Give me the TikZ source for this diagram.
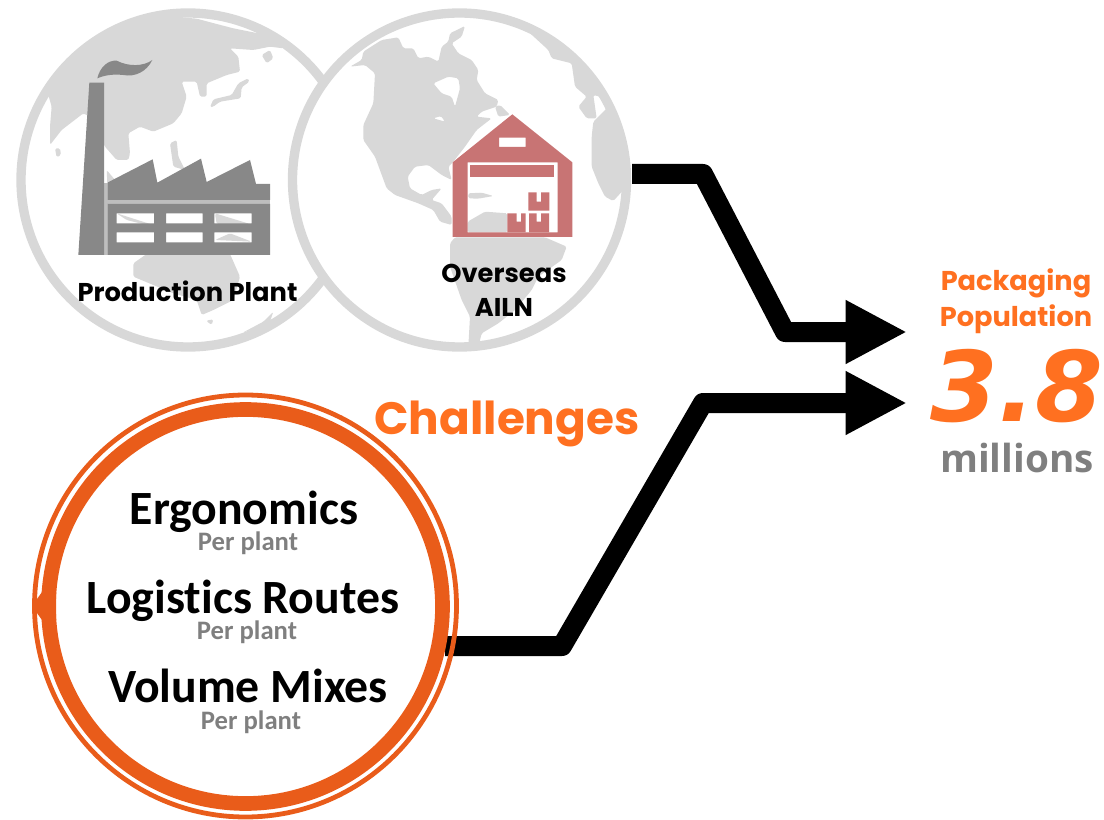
\documentclass[tikz,border=0pt]{standalone}
\usepackage{fontspec}
\setmainfont[Ligatures=NoCommon]{Carlito}
\newfontfamily\gothic{Poppins}
\newfontfamily\dejav{DejaVu Sans}
\newfontfamily\opens{Open Sans}
\usetikzlibrary{arrows.meta}
\definecolor{landgray}{RGB}{216,216,216}
\definecolor{factorygray}{RGB}{136,136,136}
\definecolor{factorygap}{RGB}{190,190,190}
\definecolor{barnred}{RGB}{200,116,116}
\definecolor{ringorange}{RGB}{233,92,26}
\definecolor{textorange}{RGB}{255,112,32}
\definecolor{subgray}{RGB}{127,127,127}
\tikzset{
  land/.style={fill=landgray,rounded corners=1.2pt},
  factorypart/.style={fill=factorygray},
  barnpart/.style={fill=barnred,even odd rule},
  globe/.style={circle,draw=landgray,fill=white,line width=7pt,minimum size=250.5pt,inner sep=0pt,outer sep=0pt},
  thickring/.style={circle,draw=ringorange,line width=11pt,minimum size=295.5pt,inner sep=0pt,outer sep=0pt},
  thinring/.style={circle,draw=ringorange,line width=3.6pt,minimum size=316.5pt,inner sep=0pt,outer sep=0pt},
  flow/.style={draw=black,line width=15pt,line join=round,-{Triangle[length=46pt,width=44.5pt]}},
  txt/.style={inner sep=0pt,outer sep=0pt,anchor=base},
  glabel/.style={txt,font=\gothic\bfseries\fontsize{19.3pt}{22pt}\selectfont,text=black},
  biglabel/.style={txt,font=\bfseries\fontsize{35.8pt}{38pt}\selectfont,text=black},
  perlabel/.style={txt,font=\bfseries\fontsize{20pt}{22pt}\selectfont,text=subgray},
  packlabel/.style={txt,font=\gothic\bfseries\fontsize{20.4pt}{23pt}\selectfont,text=textorange},
}
\begin{document}
\begin{tikzpicture}[x=0.75pt,y=-0.75pt]
\useasboundingbox (0,0) rectangle (1104,820);
% left globe
\node[globe] (g1) at (188,180) {};
\begin{scope}[x=.25pt,y=-.25pt]
\clip (564,540) circle [radius=125pt];
\fill[land] (145,285) -- (155,320) -- (150,380) -- (150,435) -- (185,390) -- (250,340) -- (270,350) -- (315,440) -- (350,480) -- (385,480) -- (390,460) -- (385,400) -- (420,380) -- (460,395) -- (520,370) -- (545,340) -- (560,290) -- (545,245) -- (590,245) -- (600,290) -- (620,290) -- (620,250) -- (680,225) -- (720,215) -- (715,170) -- (690,145) -- (760,150) -- (810,140) -- (850,145) -- (820,100) -- (775,100) -- (700,85) -- (650,72) -- (590,56) -- (400,40) -- (200,150) -- cycle;
\fill[land] (630,322) -- (640,298) -- (695,285) -- (715,250) -- (745,235) -- (748,245) -- (725,262) -- (722,295) -- (660,305) -- (640,320) -- cycle;
\fill[land] (785,165) -- (810,150) -- (820,175) -- (800,190) -- cycle;
\fill[land] (165,445) -- (180,445) -- (183,465) -- (170,472) -- cycle;
\fill[land] (510,430) -- (530,420) -- (535,470) -- (555,510) -- (520,500) -- cycle;
\fill[land] (320,510) -- (345,540) -- (322,550) -- cycle;
\fill[land] (350,640) -- (460,675) -- (460,680) -- (380,660) -- cycle;
\fill[land] (645,640) -- (750,672) -- (650,672) -- cycle;
\fill[land] (645,720) -- (690,700) -- (755,725) -- cycle;
\fill[land] (400,790) -- (440,762) -- (690,762) -- (720,830) -- (700,900) -- (640,930) -- (605,945) -- (590,900) -- (520,880) -- (400,830) -- cycle;
\fill[land] (618,962) -- (640,958) -- (635,975) -- cycle;
\fill[land] (728,998) -- (790,965) -- (820,935) -- (810,965) -- (770,985) -- cycle;
% factory
\fill[factorygap] (312,548) rectangle (322,765);
\fill[factorygap] (322,600) rectangle (810,612);
\fill[factorypart] (235,765) -- (268,248) -- (312,248) -- (312,765) -- cycle;
\fill[factorypart] (292,235) .. controls (300,200) and (325,180) .. (350,182) .. controls (385,200) and (430,200) .. (457,180) .. controls (440,215) and (405,232) .. (370,225) .. controls (340,222) and (315,225) .. (292,235) -- cycle;
\fill[factorypart] (322,548) -- (458,478) -- (472,548) -- (603,476) -- (620,546) -- (750,480) -- (768,552) -- (810,552) -- (810,600) -- (322,600) -- cycle;
\fill[factorypart,even odd rule] (322,612) rectangle (810,765)
  (350,640) rectangle (462,670) (498,640) rectangle (608,670) (643,640) rectangle (755,670)
  (350,697) rectangle (462,727) (498,697) rectangle (608,727) (643,697) rectangle (755,727);
\end{scope}
% right globe
\node[globe] (g2) at (459.5,180) {};
\begin{scope}[shift={(285,0)},x=.25pt,y=-.25pt]
\clip (523.5,540) circle [radius=125pt];
\fill[land,even odd rule] (195,200) -- (230,180) -- (235,155) -- (290,120) -- (340,112) -- (355,145) -- (385,145) -- (400,175) -- (430,170) -- (460,185) -- (470,140) -- (490,125) -- (495,100) -- (540,78) -- (530,110) -- (500,130) -- (520,160) -- (560,180) -- (580,210) -- (575,240) -- (600,280) -- (640,300) -- (635,320) -- (590,335) -- (575,350) -- (620,355) -- (575,390) -- (540,440) -- (505,485) -- (490,500) -- (500,540) -- (470,525) -- (430,495) -- (390,500) -- (368,530) -- (375,565) -- (410,585) -- (440,570) -- (470,565) -- (440,600) -- (470,610) -- (500,650) -- (500,675) -- (465,665) -- (445,630) -- (400,610) -- (330,585) -- (305,565) -- (270,470) -- (235,420) -- (235,375) -- (265,310) -- (270,220) -- (240,195) -- cycle
 (445,250) -- (490,230) -- (520,235) -- (525,265) -- (510,320) -- (500,290) -- (470,280) -- cycle
 (445,355) -- (468,348) -- (480,365) -- cycle;
\fill[land] (630,320) -- (645,315) -- (675,345) -- (640,350) -- cycle;
\fill[land] (730,95) -- (790,150) -- (800,175) -- (860,190) -- (870,260) -- (905,290) -- (880,320) -- (905,355) -- (935,355) -- (925,285) -- (945,290) -- (965,325) -- (925,365) -- (920,410) -- (920,500) -- (940,550) -- (960,590) -- (985,603) -- (1015,570) -- (1060,500) -- (1060,400) -- (960,200) -- (850,60) -- cycle;
\fill[land] (495,730) -- (510,712) -- (780,712) -- (845,740) -- (830,780) -- (760,830) -- (740,870) -- (690,930) -- (640,970) -- (590,1000) -- (580,1040) -- (550,1040) -- (555,950) -- (530,900) -- (495,800) -- cycle;
\fill[land] (548,697) -- (548,665) -- (600,635) -- (667,640) -- (667,697) -- cycle;
\fill[land] (550,580) -- (590,578) -- (625,588) -- (580,596) -- (550,595) -- cycle;
% warehouse
\fill[barnpart] (503,487) -- (682,343) -- (862,487) -- (862,711) -- (503,711) -- cycle
  (642,413) rectangle (722,441)
  (548,487) rectangle (818,697);
\fill[barnred] (556,495) rectangle (808,530);
\fill[barnred] (667,640) -- (695,640) -- (695,665) -- (708,665) -- (708,640) -- (722,640) -- (722,697) -- (667,697) -- cycle;
\fill[barnred] (732,640) -- (755,640) -- (755,665) -- (768,665) -- (768,640) -- (792,640) -- (792,697) -- (732,697) -- cycle;
\fill[barnred] (730,577) -- (755,577) -- (755,605) -- (768,605) -- (768,577) -- (793,577) -- (793,632) -- (730,632) -- cycle;
\end{scope}
\node[glabel] (lplant) at (187.5,301) {Production Plant};
\node[glabel] (lover1) at (504,282) {Overseas};
\node[glabel] (lover2) at (504,316) {AILN};
% connectors
\coordinate (a1) at (632,174);
\coordinate (a2) at (703,174);
\coordinate (a3) at (785,332);
\coordinate (a4) at (907,332);
\coordinate (b1) at (445,646);
\coordinate (b2) at (562,646);
\coordinate (b3) at (703,403);
\coordinate (b4) at (907,403);
\draw[flow] (a1) -- (a2) -- (a3) -- (a4);
\draw[flow] (b1) -- (b2) -- (b3) -- (b4);
% challenge ring
\node[thickring] (ring) at (245.5,606.5) {};
\node[thinring] (ringo) at (245.5,606) {};
\fill[ringorange] (32,606) -- (42,592) -- (56,592) -- (56,620) -- (42,620) -- cycle;
% texts
\node[txt,font=\gothic\bfseries\fontsize{34pt}{36pt}\selectfont,text=textorange] (chal) at (507,434) {Challenges};
\node[biglabel] (t1) at (244,524) {Ergonomics};
\node[perlabel] (p1) at (248,550) {Per plant};
\node[biglabel] (t2) at (243,613) {Logistics Routes};
\node[perlabel] (p2) at (247,639) {Per plant};
\node[biglabel] (t3) at (248,702) {Volume Mixes};
\node[perlabel] (p3) at (251,729) {Per plant};
\node[packlabel] (pk1) at (1016,291) {Packaging};
\node[packlabel] (pk2) at (1016,326) {Population};
\node[txt,font=\dejav\bfseries\itshape\fontsize{73pt}{75pt}\selectfont,text=textorange] (num) at (1016.5,421) {3.8};
\node[txt,font=\opens\bfseries\fontsize{29pt}{31pt}\selectfont,text=subgray] (mil) at (1017,472) {millions};
\end{tikzpicture}
\end{document}
